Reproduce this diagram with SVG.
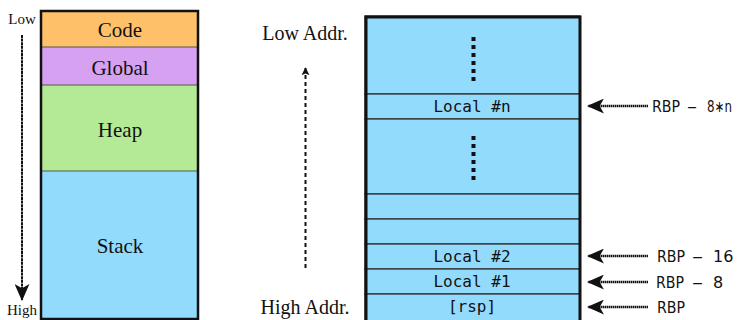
<svg xmlns="http://www.w3.org/2000/svg" width="740" height="320" viewBox="0 0 740 320">
  <defs>
    <style>
      .serif { font-family: "Liberation Serif", "DejaVu Serif", serif; fill: #111; }
      .seg { font-family: "Liberation Serif", "DejaVu Serif", serif; font-size: 21px; fill: #111; text-anchor: middle; }
      .mono { font-family: "DejaVu Sans Mono", "Liberation Mono", monospace; font-size: 16px; fill: #111; text-anchor: middle; }
      .sans { font-family: "DejaVu Sans", "Liberation Sans", sans-serif; font-size: 16px; fill: #111; }
      .cell { fill: #93dbfd; stroke: #333; stroke-width: 1.3; }
      .frame { fill: none; stroke: #111; stroke-width: 3; }
      .ptr { stroke: #111; stroke-width: 2.5; stroke-dasharray: 1.5 0.5; fill: none; }
      .dots { stroke: #111; stroke-width: 4; stroke-dasharray: 4 4; fill: none; }
    </style>
    <marker id="head" viewBox="0 0 10 10" refX="9" refY="5" markerWidth="8" markerHeight="9" markerUnits="userSpaceOnUse" orient="auto">
      <path d="M0,0 L10,5 L0,10 L2,5 Z" fill="#111"/>
    </marker>
    <marker id="bighead" viewBox="0 0 16 14" refX="15" refY="7" markerWidth="17" markerHeight="15" markerUnits="userSpaceOnUse" orient="auto">
      <path d="M0,0 L16,7 L0,14 L4,7 Z" fill="#111"/>
    </marker>
  </defs>

  <!-- process memory layout -->
  <g id="memory-layout">
    <rect x="41" y="11" width="157" height="36" fill="#fec16a"/>
    <rect x="41" y="47" width="157" height="38" fill="#d7a1f2"/>
    <rect x="41" y="85" width="157" height="86" fill="#b4ea96"/>
    <rect x="41" y="171" width="157" height="148" fill="#93dbfd"/>
    <g stroke="#555" stroke-width="1">
      <line x1="41" y1="47" x2="198" y2="47"/>
      <line x1="41" y1="85" x2="198" y2="85"/>
      <line x1="41" y1="171" x2="198" y2="171"/>
    </g>
    <rect x="41" y="11" width="157" height="308" fill="none" stroke="#111" stroke-width="2.5"/>
    <text class="seg" x="120" y="37">Code</text>
    <text class="seg" x="120" y="75">Global</text>
    <text class="seg" x="120" y="137">Heap</text>
    <text class="seg" x="120" y="253">Stack</text>
  </g>

  <g id="low-label"><text class="serif" x="22" y="24" font-size="15" text-anchor="middle">Low</text></g>
  <g id="high-label"><text class="serif" x="22" y="315" font-size="15" text-anchor="middle">High</text></g>

  <!-- stack frame -->
  <g id="stack-frame">
    <rect class="cell" x="365" y="16" width="215" height="78"/>
    <rect class="cell" x="365" y="94" width="215" height="25"/>
    <rect class="cell" x="365" y="119" width="215" height="75"/>
    <rect class="cell" x="365" y="194" width="215" height="25"/>
    <rect class="cell" x="365" y="219" width="215" height="25"/>
    <rect class="cell" x="365" y="244" width="215" height="25"/>
    <rect class="cell" x="365" y="269" width="215" height="25"/>
    <rect class="cell" x="365" y="294" width="215" height="30"/>
    <path class="frame" d="M366,322 L366,17 L580,17 L580,322"/>
    <line class="dots" x1="473.5" y1="37" x2="473.5" y2="81"/>
    <line class="dots" x1="473.5" y1="136" x2="473.5" y2="180"/>
    <text class="mono" x="472" y="112">Local #n</text>
    <text class="mono" x="472" y="262">Local #2</text>
    <text class="mono" x="472" y="287">Local #1</text>
    <text class="mono" x="472" y="312">[rsp]</text>
  </g>

  <g id="low-addr"><text class="serif" x="305" y="40" font-size="20" text-anchor="middle">Low Addr.</text></g>
  <g id="high-addr"><text class="serif" x="305" y="314" font-size="20" text-anchor="middle">High Addr.</text></g>

  <!-- pointer labels: register, minus sign, offset -->
  <g id="rbp-8n">
    <text class="sans" x="652" y="112" textLength="28" lengthAdjust="spacingAndGlyphs">RBP</text>
    <text class="sans" x="687" y="112" textLength="10" lengthAdjust="spacingAndGlyphs">–</text>
    <text class="sans" x="707" y="112" textLength="25" lengthAdjust="spacingAndGlyphs">8∗n</text>
  </g>
  <g id="rbp-16">
    <text class="sans" x="657" y="262" textLength="28" lengthAdjust="spacingAndGlyphs">RBP</text>
    <text class="sans" x="692" y="262" textLength="11" lengthAdjust="spacingAndGlyphs">–</text>
    <text class="sans" x="713" y="262">16</text>
  </g>
  <g id="rbp-8">
    <text class="sans" x="656" y="288" textLength="28" lengthAdjust="spacingAndGlyphs">RBP</text>
    <text class="sans" x="692" y="288" textLength="11" lengthAdjust="spacingAndGlyphs">–</text>
    <text class="sans" x="713" y="288">8</text>
  </g>
  <g id="rbp">
    <text class="sans" x="657" y="313" textLength="28" lengthAdjust="spacingAndGlyphs">RBP</text>
  </g>

  <!-- connectors -->
  <g id="connectors">
    <line x1="22" y1="35" x2="22" y2="300" stroke="#111" stroke-width="2" stroke-dasharray="3 0.6" marker-end="url(#bighead)"/>
    <line x1="305.5" y1="268" x2="305.5" y2="68" stroke="#111" stroke-width="2" stroke-dasharray="4 3" marker-end="url(#head)"/>
    <line class="ptr" x1="648" y1="106" x2="588" y2="106" marker-end="url(#bighead)"/>
    <line class="ptr" x1="648" y1="256" x2="588" y2="256" marker-end="url(#bighead)"/>
    <line class="ptr" x1="648" y1="282" x2="588" y2="282" marker-end="url(#bighead)"/>
    <line class="ptr" x1="648" y1="307" x2="588" y2="307" marker-end="url(#bighead)"/>
  </g>
</svg>
